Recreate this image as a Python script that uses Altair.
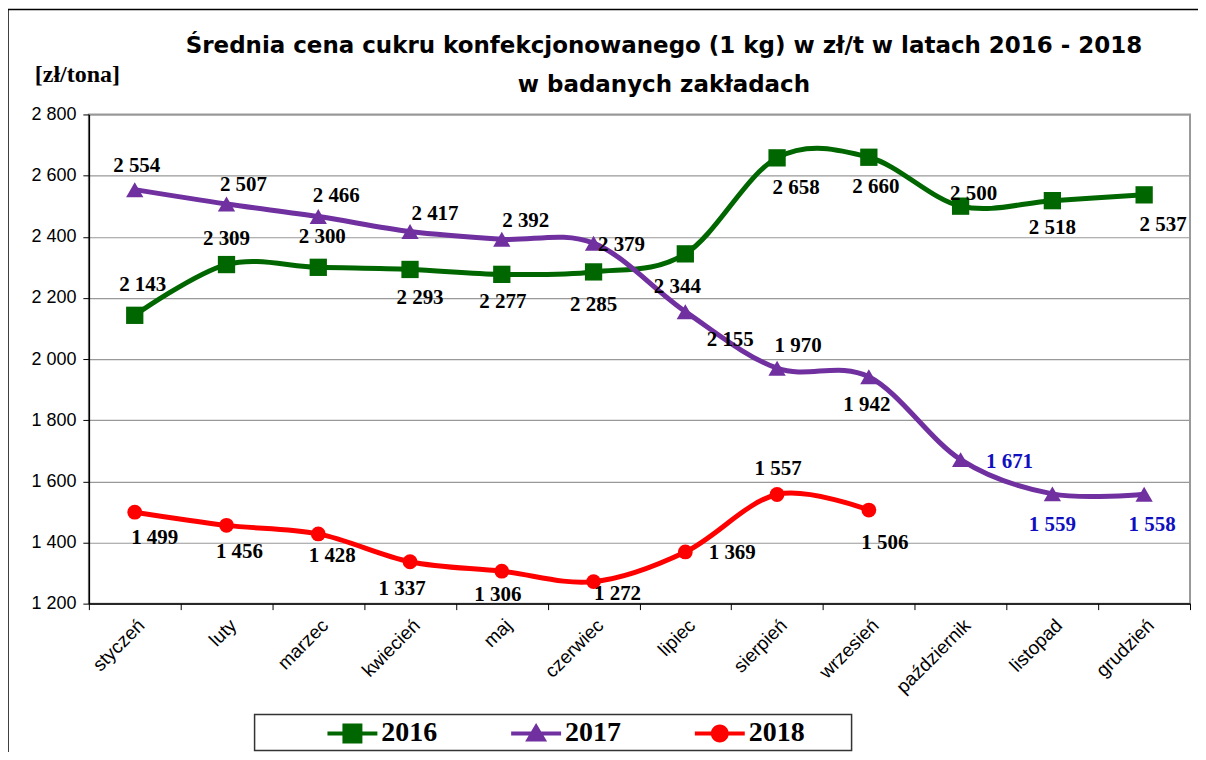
import altair as alt
import pandas as pd

months = ["styczeń", "luty", "marzec", "kwiecień", "maj", "czerwiec", "lipiec",
          "sierpień", "wrzesień", "październik", "listopad", "grudzień"]
years = ["2016", "2017", "2018"]
v2016 = [2143, 2309, 2300, 2293, 2277, 2285, 2344, 2658, 2660, 2500, 2518, 2537]
v2017 = [2554, 2507, 2466, 2417, 2392, 2379, 2155, 1970, 1942, 1671, 1559, 1558]
v2018 = [1499, 1456, 1428, 1337, 1306, 1272, 1369, 1557, 1506]
y_ticks = [1200, 1400, 1600, 1800, 2000, 2200, 2400, 2600, 2800]
title_lines = ["Średnia cena cukru konfekcjonowanego (1 kg) w zł/t w latach 2016 - 2018",
               "w badanych zakładach"]

# label placement offsets (pixels) for each data label
dx2016 = [8, 0, 4, 10, 1, 0, -8, 19, 7, 13, 0, 19]
dy2016 = [-30, -26, -30, 29, 28, 33, 33, 30, 30, -12, 27, 30]
dx2017 = [2, 17, 18, 25, 24, 28, 45, 21, -2, 49, 0, 8]
dy2017 = [-24, -19, -21, -18, -18, 2, 28, -22, 28, 2, 31, 31]
dx2018 = [20, 13, 14, -8, -4, 24, 47, 1, 16]
dy2018 = [26, 27, 22, 27, 24, 12, 1, -26, 33]
blue_2017 = ["październik", "listopad", "grudzień"]

colors = ["#006600", "#7030A0", "#FF0000"]
marker_shapes = ["square", "triangle-up", "circle"]
marker_sizes = [300, 300, 220]
legend_paths = [
    "M -2.5 -0.2 H 2.5 V 0.2 H -2.5 Z M -1 -1 H 1 V 1 H -1 Z",
    "M -2.5 -0.2 H 2.5 V 0.2 H -2.5 Z M 0 -1.05 L 1.1 0.8 L -1.1 0.8 Z",
    "M -2.5 -0.2 H 2.5 V 0.2 H -2.5 Z M -0.9 0 A 0.9 0.9 0 1 1 0.9 0 A 0.9 0.9 0 1 1 -0.9 0 Z",
]

rows = []
for yr, vals, dxs, dys in [("2016", v2016, dx2016, dy2016),
                           ("2017", v2017, dx2017, dy2017),
                           ("2018", v2018, dx2018, dy2018)]:
    for i, v in enumerate(vals):
        m = months[i]
        rows.append({
            "month": m, "year": yr, "value": v,
            "dx": dxs[i], "dy": dys[i],
            "label": f"{v:,}".replace(",", " "),
            "blue": (yr == "2017" and m in blue_2017),
        })
df = pd.DataFrame(rows)

W, H = 1103, 490

x_enc = alt.X("month:N", sort=months,
              scale=alt.Scale(domain=months, paddingInner=0, paddingOuter=0),
              axis=alt.Axis(title=None, labelAngle=-45, labelFont="Liberation Sans",
                            labelFontSize=19, labelColor="black", tickBand="extent",
                            tickSize=6, tickColor="black", domainColor="black",
                            domainWidth=1.5, labelPadding=6, grid=False))
y_enc = alt.Y("value:Q",
              scale=alt.Scale(domain=[1200, 2800], nice=False, zero=False),
              axis=alt.Axis(values=y_ticks, title="[zł/tona]", titleAngle=0,
                            titleX=-12, titleY=-40, titleAlign="center",
                            titleBaseline="middle", titleFont="Liberation Serif",
                            titleFontSize=24, titleFontWeight="bold", titleColor="black",
                            labelFont="Liberation Sans", labelFontSize=18,
                            labelColor="black", labelPadding=7, tickSize=6,
                            tickColor="black", domainColor="black", domainWidth=1.5,
                            labelExpr="replace(format(datum.value, ','), ',', ' ')",
                            grid=True, gridColor="#999999", gridWidth=1.2))

base = alt.Chart(df)
one = pd.DataFrame({"k": [0]})

frame = alt.Chart(one).mark_rect(
    fill=None, stroke="black", strokeWidth=1.5
).encode(x=alt.value(-81), x2=alt.value(1400), y=alt.value(-105), y2=alt.value(1400))

legend_box = alt.Chart(one).mark_rect(
    fill="white", stroke="#333333", strokeWidth=1.5
).encode(x=alt.value(166), x2=alt.value(764), y=alt.value(601), y2=alt.value(637))

title1 = alt.Chart(pd.DataFrame({"t": [title_lines[0]]})).mark_text(
    font="DejaVu Sans", fontSize=23, fontWeight="bold", color="black",
    align="center", baseline="middle"
).encode(text="t:N", x=alt.value(576), y=alt.value(-69))
title2 = alt.Chart(pd.DataFrame({"t": [title_lines[1]]})).mark_text(
    font="DejaVu Sans", fontSize=23, fontWeight="bold", color="black",
    align="center", baseline="middle"
).encode(text="t:N", x=alt.value(576), y=alt.value(-29))

series_layers = []
for yr, col, shp, sz in zip(years, colors, marker_shapes, marker_sizes):
    sub = base.transform_filter(f"datum.year == '{yr}'")
    series_layers.append(
        sub.mark_line(interpolate="cardinal", tension=0, strokeWidth=5, color=col)
        .encode(x=x_enc, y=y_enc))
    series_layers.append(
        sub.mark_point(shape=shp, filled=True, size=sz, opacity=1, color=col)
        .encode(x=x_enc, y=y_enc))

labels = base.mark_text(
    font="Liberation Serif", fontSize=21, fontWeight="bold",
    align="center", baseline="middle",
    dx=alt.ExprRef("datum.dx"), dy=alt.ExprRef("datum.dy"),
).encode(
    x=x_enc, y=y_enc, text="label:N",
    color=alt.condition("datum.blue", alt.value("#1010C0"), alt.value("black")),
)

legend_layer = base.transform_filter("false").mark_point(
    filled=True, size=400, opacity=1, strokeWidth=0).encode(
    x=x_enc, y=y_enc,
    color=alt.Color("year:N", scale=alt.Scale(domain=years, range=colors),
                    legend=alt.Legend(title=None)),
    shape=alt.Shape("year:N", scale=alt.Scale(domain=years, range=legend_paths),
                    legend=alt.Legend(title=None)),
)

chart = alt.layer(frame, legend_box, title1, title2, *series_layers, labels,
                  legend_layer).properties(
    width=W, height=H,
    background="white",
    autosize=alt.AutoSizeParams(type="none"),
    padding={"left": 81, "top": 106, "right": 8, "bottom": 148},
).configure_view(stroke="#999999", strokeWidth=2).configure_legend(
    orient="none", legendX=250, legendY=606, direction="horizontal",
    labelFont="Liberation Serif", labelFontSize=28, labelFontWeight="bold",
    labelColor="black", labelOffset=15, columnPadding=74, symbolSize=400,
    symbolStrokeWidth=0, padding=0, symbolOpacity=1,
)

chart.save("out.html", embed_options={"renderer": "svg", "actions": False})
